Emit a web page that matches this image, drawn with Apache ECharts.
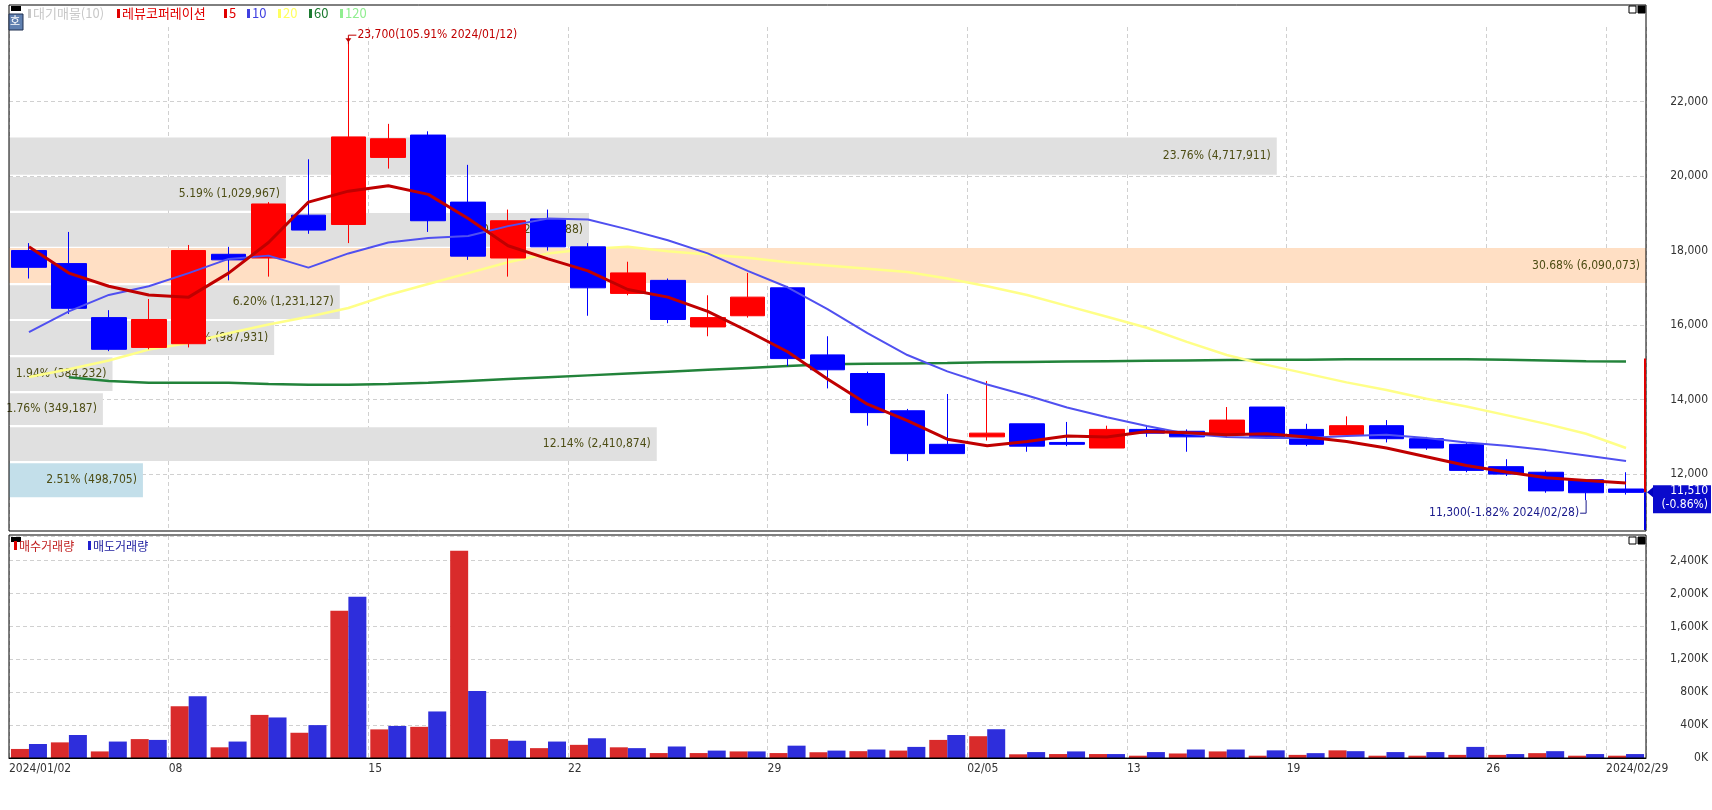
<!DOCTYPE html>
<html><head><meta charset="utf-8">
<script src="https://cdn.jsdelivr.net/npm/echarts@6/dist/echarts.min.js"></script>
<style>html,body{margin:0;padding:0;background:#fff}#c{width:1712px;height:810px}</style>
</head><body><div id="c"></div>
<script>
const dates = ['2024/01/02','01/03','01/04','01/05','08','01/09','01/10','01/11','01/12','15','01/16','01/17','01/18','01/19','22','01/23','01/24','01/25','01/26','29','01/30','01/31','02/01','02/02','02/05','02/06','02/07','02/08','13','02/14','02/15','02/16','19','02/20','02/21','02/22','02/23','26','02/27','02/28','2024/02/29'];
const labelIdx = [0,4,9,14,19,24,28,32,37,40];
// [open, close, low, high]
const opens  = [18000,17650,16200,15400,15500,17900,17800,18950,18700,20500,21100,19300,17800,18850,18100,16850,17200,15950,16250,17000,15200,14700,13700,12800,13000,13350,12850,12700,13200,13150,13050,13800,13200,13050,13300,12950,12800,12200,12050,11850,11600];
const closes = [17550,16450,15350,16150,18000,17750,19250,18550,21050,21000,18800,17850,18800,18100,17000,17400,16150,16200,16750,15100,14800,13650,12550,12550,13100,12750,12800,13200,13100,13000,13450,13000,12800,13300,12950,12700,12100,12000,11550,11500,11510];
const lows   = [17250,16300,15300,15350,15400,17200,17300,18450,18200,20200,18500,17750,17300,18000,16250,16800,16050,15700,16200,14900,14300,13300,12350,12550,12900,12600,12750,12700,13000,12600,13000,12950,12750,13000,12850,12650,12050,11950,11500,11300,11450];
const highs  = [18200,18500,16400,16700,18150,18100,19300,20450,23700,21400,21200,20300,19100,19100,18200,17700,17250,16800,17400,17050,15700,14750,13750,14150,14500,13350,13400,13300,13300,13200,13800,13800,13350,13550,13450,13000,12850,12400,12100,11850,12050];
const ma5  = [18100,17395,17043,16809,16750,17395,18216,19301,19594,19741,19507,18862,18128,17776,17454,16955,16750,16369,15841,15284,14550,13876,13436,12937,12761,12878,13025,12996,13143,13113,13055,13084,12996,12878,12702,12468,12233,12057,11900,11830,11764];
const ma10 = [15811,16369,16809,17043,17395,17776,17864,17542,17923,18216,18334,18392,18656,18862,18832,18568,18275,17923,17454,17014,16428,15782,15196,14756,14404,14111,13788,13524,13289,13084,12996,12966,12966,13025,13055,12966,12849,12761,12644,12497,12350];
const ma20 = [14609,14814,15049,15342,15518,15782,16017,16222,16457,16809,17102,17395,17688,17923,18040,18099,17982,17894,17806,17688,17600,17512,17424,17248,17043,16809,16516,16222,15929,15548,15196,14932,14697,14462,14257,14023,13817,13583,13348,13084,12702];
const ma60 = ['-',14600,14500,14450,14450,14450,14420,14400,14400,14420,14450,14500,14550,14600,14650,14700,14750,14800,14850,14900,14950,14960,14970,14980,15000,15010,15020,15030,15040,15050,15060,15070,15070,15080,15080,15080,15080,15070,15050,15030,15020];
const buyVol  = [110,190,80,230,628,130,524,307,1790,348,379,2520,230,120,160,130,60,60,80,60,70,83,90,220,265,45,48,48,28,55,80,28,38,93,28,28,38,38,59,28,28];
const sellVol = [170,280,200,220,752,200,493,400,1962,390,566,814,210,200,240,120,140,90,80,150,90,103,135,280,350,72,80,48,72,103,103,93,59,83,72,72,135,48,83,48,48];
// volume profile (대기매물)
const profLow  = [20035,19067,18099,17131,16164,15196,14228,13318,12350,11382];
const profHigh = [21032,19976,19008,18070,17072,16106,15137,14169,13260,12290];
const profPct  = [23.76,5.19,10.87,30.68,6.20,4.97,1.94,1.76,12.14,2.51];
const profVol  = ['4,717,911','1,029,967','2,156,888','6,090,073','1,231,127','987,931','384,232','349,187','2,410,874','498,705'];
const profColor= ['#e0e0e0','#e0e0e0','#e0e0e0','#ffdfc4','#e0e0e0','#e0e0e0','#e0e0e0','#e0e0e0','#e0e0e0','#c3dfea'];
const priceTicks = [12000,14000,16000,18000,20000,22000];

const maxPct = Math.max(...profPct);
const chart = echarts.init(document.getElementById('c'));
const numFont = 'DejaVu Sans Condensed';
const fmt = v => v.toLocaleString('en-US');
const catAxisBase = {
  type:'category', data:dates, boundaryGap:true,
  axisTick:{show:false}, axisLine:{show:false}, axisLabel:{show:false},
  splitLine:{show:true, interval:(i)=>labelIdx.includes(i), lineStyle:{color:'#d0d0d0', type:[4,3]}}
};
chart.setOption({
  animation:false,
  grid:[{left:9,right:66,top:27,height:503},{left:9,right:66,top:536,bottom:52}],
  xAxis:[
    Object.assign({gridIndex:0, position:'bottom'}, catAxisBase),
    Object.assign({gridIndex:1, position:'top'}, catAxisBase),
    {type:'value', gridIndex:0, position:'top', min:0, max:100, show:false},
    {type:'value', gridIndex:1, position:'bottom', min:-0.5, max:dates.length-0.5, interval:1, splitLine:{show:false},
     axisLine:{show:true, onZero:false, lineStyle:{color:'#000'}}, axisTick:{show:false},
     axisLabel:{showMaxLabel:false, formatter:(v)=>{const i=Math.round(v+0.5); return labelIdx.includes(i)?dates[i]:'';},
       color:'#333', fontFamily:numFont, fontSize:12, margin:5, align:'left'}}
  ],
  yAxis:[
    {type:'value', gridIndex:0, position:'right', min:10500, max:24000, interval:500, splitLine:{show:false},
     axisLine:{show:false}, axisTick:{show:false},
     axisLabel:{formatter:v=>(v%2000===0 && v>=12000 && v<=22000)?fmt(v):'', color:'#333', fontFamily:numFont, fontSize:12, align:'right', margin:62}},
    {type:'value', gridIndex:1, position:'right', min:0, max:2700, interval:400,
     splitLine:{show:true, lineStyle:{color:'#d0d0d0', type:[4,3]}}, axisLine:{show:false}, axisTick:{show:false},
     axisLabel:{formatter:v=>(v<=2400)?fmt(v)+'K':'', color:'#333', fontFamily:numFont, fontSize:12, align:'right', margin:62}}
  ],
  series:[
    {type:'line', xAxisIndex:0, yAxisIndex:0, data:[], z:0,
     markLine:{silent:true, symbol:'none', z:0, label:{show:false}, lineStyle:{color:'#d0d0d0', type:[4,3], width:1}, data:priceTicks.map(v=>({yAxis:v}))}},
    {type:'custom', xAxisIndex:2, yAxisIndex:0, z:1, silent:true,
     data: profLow.map((l,i)=>[l, profHigh[i], profPct[i]/maxPct*100, i]),
     encode:{x:2, y:[0,1]},
     renderItem:(params, api)=>{
       const i = api.value(3);
       const p0 = api.coord([0, api.value(1)]);
       const p1 = api.coord([api.value(2), api.value(0)]);
       return {type:'group', children:[
         {type:'rect', shape:{x:p0[0], y:p0[1], width:p1[0]-p0[0], height:p1[1]-p0[1]}, style:{fill:profColor[i]}},
         {type:'text', style:{text:profPct[i].toFixed(2)+'% ('+profVol[i]+')', x:p1[0]-6, y:(p0[1]+p1[1])/2, align:'right', verticalAlign:'middle', fill:'#4d4d14', font:'12px "DejaVu Sans Condensed"'}}
       ]};
     }},
    {type:'line', xAxisIndex:0, yAxisIndex:0, data:ma60, symbol:'none', z:3, lineStyle:{color:'#22833a', width:2.5}},
    {type:'line', xAxisIndex:0, yAxisIndex:0, data:ma20, symbol:'none', z:3, lineStyle:{color:'#ffff88', width:2.5}},
    {type:'candlestick', xAxisIndex:0, yAxisIndex:0, z:4, barWidth:'88%',
     data: opens.map((o,i)=>[o, closes[i], lows[i], highs[i]]),
     itemStyle:{color:'#ff0000', color0:'#0000ff', borderColor:'#ff0000', borderColor0:'#0000ff', borderWidth:1}},
    {type:'line', xAxisIndex:0, yAxisIndex:0, data:ma10, symbol:'none', z:5, lineStyle:{color:'#5050f0', width:2}},
    {type:'line', xAxisIndex:0, yAxisIndex:0, data:ma5, symbol:'none', z:6, lineStyle:{color:'#c00000', width:3}},
    {type:'bar', xAxisIndex:1, yAxisIndex:1, data:buyVol, barWidth:18, barGap:'0%', itemStyle:{color:'#d92b2b'}},
    {type:'bar', xAxisIndex:1, yAxisIndex:1, data:sellVol, barWidth:18, barGap:'0%', itemStyle:{color:'#2e2edc'}}
  ]
});

function px(i, v){ return chart.convertToPixel({xAxisIndex:0, yAxisIndex:0}, [i, v]); }
const hiIdx = highs.indexOf(Math.max(...highs));
const loIdx = lows.indexOf(Math.min(...lows));
const ph = px(hiIdx, highs[hiIdx]);
const pl = px(loIdx, lows[loIdx]);
const last = closes.length-1;
const pc = px(last, closes[last]);
const pTop = px(last, 15100);
const pBot = px(last, 10500);
const krFont = '"Noto Sans CJK KR"';
const legendItems = [['대기매물(10)','#c8c8c8'],['레뷰코퍼레이션','#e00000'],['5','#e00000'],['10','#4040e0'],['20','#ffff60'],['60','#1c7a30'],['120','#90ee90']];
const legendG = []; let lx = 28;
legendItems.forEach(([t,c],k)=>{
  legendG.push({type:'rect', shape:{x:lx, y:9, width:3, height:9}, style:{fill:c}});
  legendG.push({type:'text', x:lx+5, y:13, style:{text:t, fill: k===0?'#c8c8c8':c, font:'13px '+krFont, verticalAlign:'middle'}});
  lx += 5 + (k===0?78:k===1?96:[0,0,12,20,20,20,28][k]) + 6;
});
chart.setOption({graphic:[
  {type:'rect', shape:{x:9, y:5, width:1637, height:526}, style:{fill:'none', stroke:'#000', lineWidth:1}, z:100},
  {type:'rect', shape:{x:9, y:535, width:1637, height:223}, style:{fill:'none', stroke:'#000', lineWidth:1}, z:100},
  {type:'rect', shape:{x:11, y:6, width:10, height:5}, style:{fill:'#000'}, z:101},
  {type:'rect', shape:{x:9, y:14, width:14, height:16}, style:{fill:'#6080b0', stroke:'#203050'}, z:101},
  {type:'text', x:10, y:15, style:{text:'호', fill:'#fff', font:'11px '+krFont}, z:102},
  {type:'group', z:101, children:legendG},
  {type:'rect', shape:{x:1629, y:6, width:7, height:7}, style:{fill:'#fff', stroke:'#000'}, z:101},
  {type:'rect', shape:{x:1638, y:6, width:7, height:7}, style:{fill:'#000', stroke:'#000'}, z:101},
  {type:'rect', shape:{x:1629, y:537, width:7, height:7}, style:{fill:'#fff', stroke:'#000'}, z:101},
  {type:'rect', shape:{x:1638, y:537, width:7, height:7}, style:{fill:'#000', stroke:'#000'}, z:101},
  {type:'rect', shape:{x:11, y:537, width:10, height:5}, style:{fill:'#000'}, z:101},
  {type:'rect', shape:{x:14, y:541, width:3, height:9}, style:{fill:'#e00000'}, z:101},
  {type:'text', x:19, y:546, style:{text:'매수거래량', fill:'#c02020', font:'12px '+krFont, verticalAlign:'middle'}, z:101},
  {type:'rect', shape:{x:88, y:541, width:3, height:9}, style:{fill:'#2020d0'}, z:101},
  {type:'text', x:93, y:546, style:{text:'매도거래량', fill:'#2020a0', font:'12px '+krFont, verticalAlign:'middle'}, z:101},
  {type:'polyline', shape:{points:[[ph[0], ph[1]+6],[ph[0], ph[1]-3],[ph[0]+8, ph[1]-3]]}, style:{stroke:'#c00000', lineWidth:1}, z:101},
  {type:'polygon', shape:{points:[[ph[0]-3, ph[1]],[ph[0]+3, ph[1]],[ph[0], ph[1]+4]]}, style:{fill:'#c00000'}, z:101},
  {type:'text', x:ph[0]+9, y:ph[1]-3, style:{text:fmt(highs[hiIdx])+'(105.91% 2024/01/12)', fill:'#c00000', font:'12px "DejaVu Sans Condensed"', verticalAlign:'middle'}, z:101},
  {type:'polyline', shape:{points:[[pl[0], pl[1]],[pl[0], pl[1]+13],[pl[0]-6, pl[1]+13]]}, style:{stroke:'#1a1a8c', lineWidth:1}, z:101},
  {type:'text', x:pl[0]-7, y:pl[1]+13, style:{text:fmt(lows[loIdx])+'(-1.82% 2024/02/28)', fill:'#1a1a8c', font:'12px "DejaVu Sans Condensed"', align:'right', verticalAlign:'middle'}, z:101},
  {type:'line', shape:{x1:1645, y1:pTop[1], x2:1645, y2:pc[1]}, style:{stroke:'#e00000', lineWidth:2}, z:101},
  {type:'line', shape:{x1:1645, y1:pc[1], x2:1645, y2:pBot[1]}, style:{stroke:'#0000e0', lineWidth:2}, z:101},
  {type:'polygon', shape:{points:[[1647, pc[1]],[1653, pc[1]-5],[1653, pc[1]+5]]}, style:{fill:'#0000c0'}, z:101},
  {type:'rect', shape:{x:1653, y:pc[1]-7, width:58, height:28}, style:{fill:'#0a0acc'}, z:101},
  {type:'text', x:1708, y:pc[1]-1, style:{text:fmt(closes[last]), fill:'#fff', font:'12px "DejaVu Sans Condensed"', align:'right', verticalAlign:'middle'}, z:102},
  {type:'text', x:1708, y:pc[1]+13, style:{text:'(-0.86%)', fill:'#fff', font:'12px "DejaVu Sans Condensed"', align:'right', verticalAlign:'middle'}, z:102}
]});
</script></body></html>
